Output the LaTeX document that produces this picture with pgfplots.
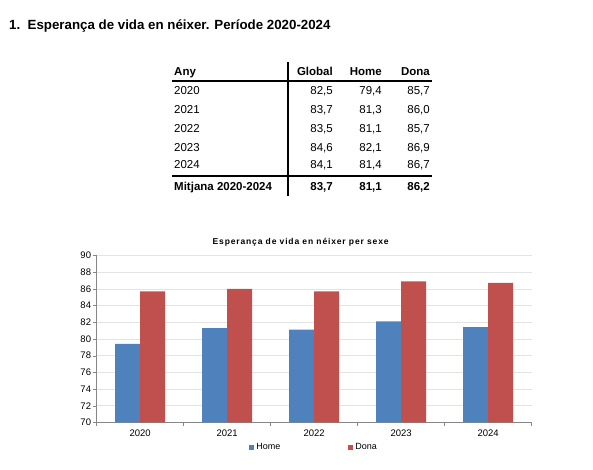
\documentclass[border=0pt]{standalone}
\usepackage{fontspec}
\setmainfont{Liberation Sans}
\usepackage{pgfplots}
\pgfplotsset{compat=1.18}

\definecolor{homeblue}{HTML}{4F81BD}
\definecolor{donared}{HTML}{C0504D}
\definecolor{gridgray}{HTML}{E3E3E3}
\definecolor{axisgray}{HTML}{868686}

% dades: Home / Dona per any
\pgfplotstableread{
x any  home dona
0 2020 79.4 85.7
1 2021 81.3 86.0
2 2022 81.1 85.7
3 2023 82.1 86.9
4 2024 81.4 86.7
}\sexdata

\newcommand\tf{\fontsize{11.5}{13}\selectfont}

\begin{document}
\begin{tikzpicture}[x=1pt,y=1pt]
% page frame 593x470 (y measured up from the bottom)
\path (0,0) rectangle (593,470);

% heading
\node[anchor=base west,inner sep=0pt,font=\fontsize{13.3}{15}\selectfont\bfseries] at (9,470-30) {1.\ \ Esperança de vida en néixer. Període 2020-2024};

% table
\begin{scope}[every node/.style={font=\tf,inner sep=0pt}]
  \node[anchor=base west,font=\tf\bfseries] at (174,470-76) {Any};
  \node[anchor=base east,font=\tf\bfseries] at (333,470-76) {Global};
  \node[anchor=base east,font=\tf\bfseries] at (382,470-76) {Home};
  \node[anchor=base east,font=\tf\bfseries] at (430,470-76) {Dona};
  \node[anchor=base west] at (174,470-95) {2020};
  \node[anchor=base west] at (174,470-114) {2021};
  \node[anchor=base west] at (174,470-133) {2022};
  \node[anchor=base west] at (174,470-152) {2023};
  \node[anchor=base west] at (174,470-169) {2024};
  \node[anchor=base east] at (333,470-95) {82,5};  \node[anchor=base east] at (382,470-95) {79,4};  \node[anchor=base east] at (430,470-95) {85,7};
  \node[anchor=base east] at (333,470-114) {83,7}; \node[anchor=base east] at (382,470-114) {81,3}; \node[anchor=base east] at (430,470-114) {86,0};
  \node[anchor=base east] at (333,470-133) {83,5}; \node[anchor=base east] at (382,470-133) {81,1}; \node[anchor=base east] at (430,470-133) {85,7};
  \node[anchor=base east] at (333,470-152) {84,6}; \node[anchor=base east] at (382,470-152) {82,1}; \node[anchor=base east] at (430,470-152) {86,9};
  \node[anchor=base east] at (333,470-169) {84,1}; \node[anchor=base east] at (382,470-169) {81,4}; \node[anchor=base east] at (430,470-169) {86,7};
  \node[anchor=base west,font=\tf\bfseries] at (174,470-191) {Mitjana 2020-2024};
  \node[anchor=base east,font=\tf\bfseries] at (333,470-191) {83,7};
  \node[anchor=base east,font=\tf\bfseries] at (382,470-191) {81,1};
  \node[anchor=base east,font=\tf\bfseries] at (430,470-191) {86,2};
\end{scope}
\draw[line width=1.6pt] (172,470-81) -- (432,470-81);
\draw[line width=1.8pt] (172,470-176) -- (432,470-176);
\draw[line width=1.6pt] (288,470-62) -- (288,470-196);

% chart
\begin{axis}[
    at={(111,57)}, anchor=south west,
    width=435pt, height=167pt, scale only axis,
    xmin=-0.5, xmax=4.5,
    ymin=70, ymax=90,
    ytick={70,72,...,90},
    xtick={0,...,4},
    xticklabels={2020,2021,2022,2023,2024},
    minor xtick={-0.5,0.5,...,4.5},
    major x tick style={draw=none},
    minor x tick style={axisgray},
    y tick style={axisgray},
    tick align=outside,
    major tick length=4pt, minor tick length=4pt,
    ymajorgrids, grid style={gridgray, line width=0.6pt},
    axis line style={axisgray},
    axis x line*=bottom, axis y line*=left,
    ticklabel style={font=\fontsize{9.5}{10}\selectfont},
    /pgf/number format/assume math mode=true,
    yticklabel style={xshift=2pt},
    title={\addfontfeature{LetterSpace=10}\textbf{Esperança de vida en néixer per sexe}},
    title style={font=\fontsize{8.5}{9}\selectfont, at={(0.5,1)}, anchor=south, xshift=-13pt, yshift=0pt},
    ybar, bar width=25pt,
    legend style={at={(0.5,-0.15)}, anchor=center, draw=none, fill=none,
        font=\fontsize{9}{10}\selectfont, legend columns=2,
        /tikz/every even column/.append style={column sep=66pt}},
    legend image code/.code={\fill[#1] (0pt,-2.5pt) rectangle (5pt,2.5pt);},
]
\addplot[fill=homeblue, draw=none, bar shift=-12.5pt] table[x=x, y=home] {\sexdata};
\addlegendentry{Home}
\addplot[fill=donared, draw=none, bar shift=12.5pt] table[x=x, y=dona] {\sexdata};
\addlegendentry{Dona}
\end{axis}
\end{tikzpicture}
\end{document}
